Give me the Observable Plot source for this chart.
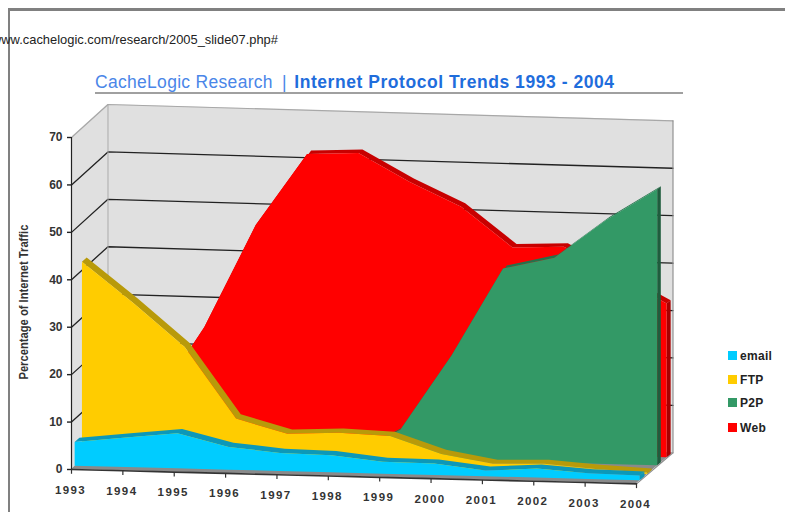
<!DOCTYPE html>
<html><head><meta charset="utf-8">
<script src="https://cdn.jsdelivr.net/npm/d3@7"></script>
<script src="https://cdn.jsdelivr.net/npm/@observablehq/plot@0.6"></script>
<style>
html,body{margin:0;padding:0;background:#fff;overflow:hidden;width:785px;height:512px;font-family:"Liberation Sans",Arial,sans-serif}
#chart{position:absolute;left:0;top:0}
.frame{position:absolute;background:#808080}
#url{position:absolute;left:-8px;top:33px;font-size:12.9px;line-height:14px;color:#222;white-space:nowrap}
#title{position:absolute;left:95px;top:72px;font-size:17.5px;line-height:21px;white-space:nowrap;color:#4a86e8;letter-spacing:.3px}
#title u{text-decoration:none;margin:0 7.5px 0 9px}
#title b{color:#1f6ddc;letter-spacing:.55px}
#rule{position:absolute;left:95px;top:92px;width:588px;height:1.5px;background:#a0a0a0}
.lg{position:absolute;left:728px;font-size:12px;font-weight:bold;letter-spacing:.3px;line-height:12px;color:#222;white-space:nowrap;padding-left:12px}
.lg i{position:absolute;left:0;top:1px;width:9px;height:9px}
</style></head><body>
<div class="frame" style="left:7.5px;top:8px;width:777.5px;height:2.5px"></div>
<div id="chart"></div>
<div class="frame" style="left:7.5px;top:9px;width:2.5px;height:503px"></div>
<div id="url">www.cachelogic.com/research/2005_slide07.php#</div>
<div id="title">CacheLogic Research<u>|</u><b>Internet Protocol Trends 1993 - 2004</b></div>
<div id="rule"></div>
<div class="lg" style="top:350px"><i style="background:#00ccff"></i>email</div>
<div class="lg" style="top:374px"><i style="background:#ffcc00"></i>FTP</div>
<div class="lg" style="top:397px"><i style="background:#339966"></i>P2P</div>
<div class="lg" style="top:422px"><i style="background:#ff0000"></i>Web</div>
<script>
const years = [1993,1994,1995,1996,1997,1998,1999,2000,2001,2002,2003,2004];
const email = [5.0,6.2,7.4,4.8,3.8,3.6,2.5,2.4,1.2,1.9,1.2,1.0];
const ftp   = [41.6,33.2,24.2,9.4,6.5,7.0,6.6,3.1,1.3,1.6,0.8,0.3];
const p2p   = [0,0,0,0,0,0,6,22,40.6,43.2,51.4,58.2];
const web   = [0,8,24.7,46.5,61.8,62.3,56.5,51.6,43.3,43.8,38,32.4];
const gridValues = [10,20,30,40,50,60];
const yTicks = [0,10,20,30,40,50,60,70];

// the chart's oblique projection: depth 0 = front plane, depth 1 = back wall
const px = (yr,d) => yr + d*0.71;
const py = (yr,v,d) => v - (yr-1993)*0.275 + d*(33 - 2*(yr-1993)/11)/4.74;

const layers = [
  {name:"Web",  vals:web,  d:0.84, th:0.11, face:"#ff0000", top:"#c80000", side:"#a80000"},
  {name:"P2P",  vals:p2p,  d:0.58, th:0.10, face:"#339966", top:"#26704b", side:"#1f5c3d"},
  {name:"FTP",  vals:ftp,  d:0.30, th:0.13, face:"#ffcc00", top:"#b89a0a", side:"#b89a0a"},
  {name:"email",vals:email,d:0.10, th:0.13, face:"#00ccff", top:"#0c98b8", side:"#0c98b8"}
];

const band = (rows, a, b, opts) => Plot.area(rows, {
  x1:r=>a(r)[0], y1:r=>a(r)[1], x2:r=>b(r)[0], y2:r=>b(r)[1], curve:"linear", ...opts});
const P = (yr,v,d) => [px(yr,d), py(yr,v,d)];

const layerMarks = layers.flatMap(L => {
  const rows = years.map((y,i)=>({y, v:L.vals[i]}));
  const last = rows[rows.length-1];
  return [
    band([0,1].map(k=>({k})), r=>P(2004,0,L.d+r.k*L.th), r=>P(2004,last.v,L.d+r.k*L.th), {fill:L.side}),
    band(rows, r=>P(r.y,r.v,L.d), r=>P(r.y,r.v,L.d+L.th), {fill:L.top}),
    band(rows, r=>P(r.y,0,L.d), r=>P(r.y,r.v,L.d), {fill:L.face})
  ];
});

const gridLine = v => [P(1993,v,0),P(1993,v,1),P(2004,v,1)];
const rows = years.map(y=>({y}));
const plot = Plot.plot({
  width:785, height:512,
  marginLeft:71, marginRight:149, marginTop:137, marginBottom:43,
  x:{domain:[1993,2004], axis:null},
  y:{domain:[0,70], axis:null},
  style:{background:"transparent", fontFamily:"'Liberation Sans',Arial,sans-serif"},
  marks:[
    // walls and floor
    band(rows, r=>P(r.y,0,1), r=>P(r.y,70,1), {fill:"#e0e0e0"}),
    band([0,1].map(d=>({d})), r=>P(1993,0,r.d), r=>P(1993,70,r.d), {fill:"#e0e0e0"}),
    band(rows, r=>P(r.y,0,0), r=>P(r.y,0,1), {fill:"#8a8a8a"}),
    // grid
    ...gridValues.map(v=>Plot.line(gridLine(v), {x:d=>d[0], y:d=>d[1], stroke:"#222", strokeWidth:1.3})),
    Plot.line(gridLine(70), {x:d=>d[0], y:d=>d[1], stroke:"#a8a8a8", strokeWidth:1.2}),
    Plot.line([P(1993,0,1),P(1993,70,1)], {x:d=>d[0], y:d=>d[1], stroke:"#a8a8a8", strokeWidth:1}),
    Plot.line([P(2004,0,1),P(2004,70,1)], {x:d=>d[0], y:d=>d[1], stroke:"#8c8c8c", strokeWidth:1.2}),
    Plot.line([P(2004,0,0),P(2004,0,1)], {x:d=>d[0], y:d=>d[1], stroke:"#8c8c8c", strokeWidth:1.2}),
    ...layerMarks,
    // axes
    Plot.ruleX([1993], {y1:0, y2:70, stroke:"#222", strokeWidth:1.2}),
    Plot.axisY({ticks:yTicks, tickSize:4, tickPadding:5, label:null, anchor:"left", fontSize:12, fontWeight:"bold", fill:"#333", stroke:"#222", strokeWidth:1.4}),
    Plot.line(years.map(y=>P(y,0,0)), {x:d=>d[0], y:d=>d[1], stroke:"#333", strokeWidth:1.6}),
    Plot.link(years, {x1:y=>px(y,0), y1:y=>py(y,0,0), x2:y=>px(y,0), y2:y=>py(y,-0.9,0), stroke:"#333", strokeWidth:1.2}),
    Plot.text(years, {x:y=>px(y,0)-0.02, y:y=>py(y,-4.3,0), text:y=>String(y), fontSize:11.5, fontWeight:"bold", fill:"#333", className:"xtick"}),
    Plot.text(["Percentage of Internet Traffic"], {x:[1992.07], y:[35.3], rotate:-90, fontSize:12, fontWeight:"bold", fill:"#333", className:"ylabel"})
  ]
});
document.getElementById("chart").append(plot);
d3.select(plot).selectAll(".xtick text").style("letter-spacing","1.4px");
d3.select(plot).selectAll(".ylabel text").attr("textLength",155).attr("lengthAdjust","spacingAndGlyphs");
</script>
</body></html>
